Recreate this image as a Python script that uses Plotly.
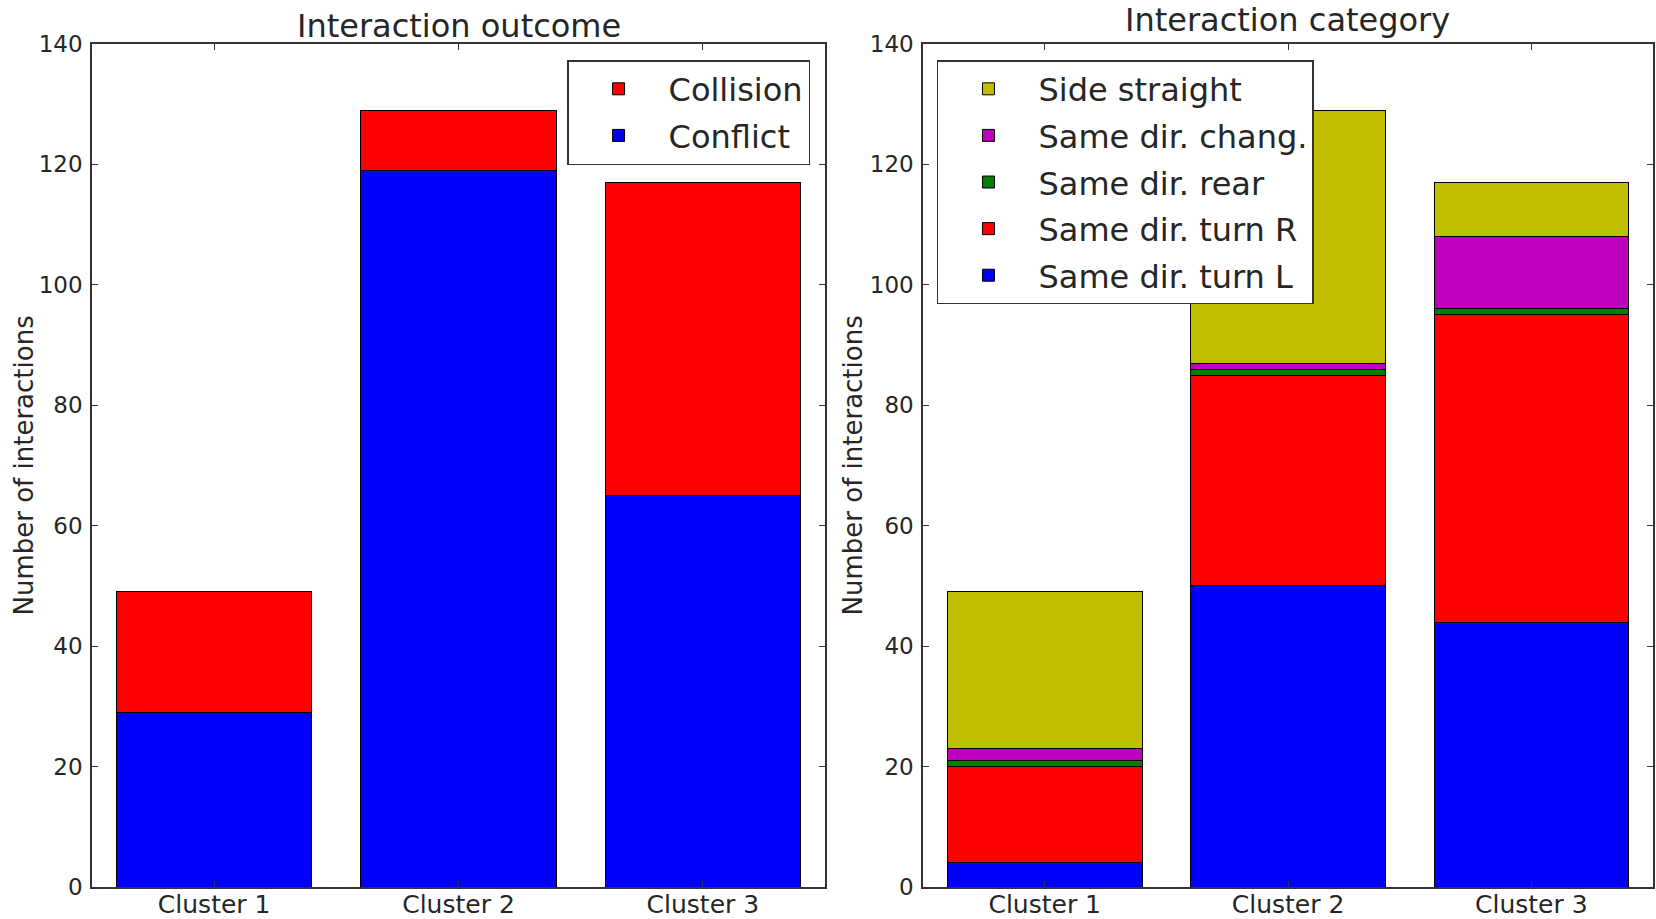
import plotly.graph_objects as go

clusters = ["Cluster 1", "Cluster 2", "Cluster 3"]

# Left panel: interaction outcome
conflict = [29, 119, 65]
collision = [20, 10, 52]

# Right panel: interaction category
turn_l = [4, 50, 44]
turn_r = [16, 35, 51]
rear = [1, 1, 1]
chang = [2, 1, 12]
side_straight = [26, 42, 9]

y_ticks = [0, 20, 40, 60, 80, 100, 120, 140]

FONT = "DejaVu Sans"
TXT = "#262626"

fig = go.Figure()

def add_bar(x, y, name, color, xaxis, yaxis, legend, rank):
    fig.add_trace(go.Bar(
        x=x, y=y, name=name, xaxis=xaxis, yaxis=yaxis, legend=legend,
        legendgroup=legend + name, legendrank=rank,
        marker=dict(color=color, line=dict(color="black", width=1)),
        width=0.8,
    ))

add_bar(clusters, conflict, "Conflict", "#0000FF", "x", "y", "legend", 2)
add_bar(clusters, collision, "Collision", "#FF0000", "x", "y", "legend", 1)

add_bar(clusters, turn_l, "Same dir. turn L", "#0000FF", "x2", "y2", "legend2", 5)
add_bar(clusters, turn_r, "Same dir. turn R", "#FF0000", "x2", "y2", "legend2", 4)
add_bar(clusters, rear, "Same dir. rear", "#008000", "x2", "y2", "legend2", 3)
add_bar(clusters, chang, "Same dir. chang.", "#BF00BF", "x2", "y2", "legend2", 2)
add_bar(clusters, side_straight, "Side straight", "#BFBF00", "x2", "y2", "legend2", 1)

xaxis_common = dict(
    type="category", range=[-0.5, 2.5], showline=True, linecolor="#333333", linewidth=1.5,
    mirror="allticks", ticks="inside", ticklen=6, tickcolor="#333333",
    showgrid=False, zeroline=False, automargin=False, ticklabelstandoff=-6,
    tickfont=dict(family=FONT, size=25, color=TXT),
)
yaxis_common = dict(
    range=[0, 140], tickvals=y_ticks, showline=True, linecolor="#333333", linewidth=1.5,
    mirror="allticks", ticks="inside", ticklen=6, tickcolor="#333333",
    showgrid=False, zeroline=False, ticklabelstandoff=3, automargin=False,
    tickfont=dict(family=FONT, size=23, color=TXT),
)

legend_common = dict(
    font=dict(family=FONT, size=32, color=TXT),
    bgcolor="white", bordercolor="#333333", borderwidth=1.5,
    traceorder="grouped", tracegroupgap=2,
    itemwidth=90,
)

def text_ann(text, x, y, size, angle=0):
    return dict(text=text, x=x, y=y, xref="paper", yref="paper",
                xanchor="center", yanchor="middle", showarrow=False, textangle=angle,
                font=dict(family=FONT, size=size, color=TXT))

fig.update_layout(
    width=1656, height=919,
    margin=dict(l=92, r=3, t=44, b=32),
    paper_bgcolor="white", plot_bgcolor="white",
    barmode="stack", bargap=0.2,
    showlegend=True,
    xaxis=dict(domain=[0, 0.4696], anchor="y", **xaxis_common),
    yaxis=dict(domain=[0, 1], anchor="x", **yaxis_common),
    xaxis2=dict(domain=[0.5324, 1], anchor="y2", **xaxis_common),
    yaxis2=dict(domain=[0, 1], anchor="x2", **yaxis_common),
    legend=dict(x=0.46, y=0.981, xanchor="right", yanchor="top", **legend_common),
    legend2=dict(x=0.5413, y=0.981, xanchor="left", yanchor="top", **legend_common),
    annotations=[
        text_ann("Interaction outcome", 0.2348, 1.021, 32),
        text_ann("Interaction category", 0.766, 1.028, 32),
        text_ann("Number of interactions", -0.0442, 0.5, 26, -90),
        text_ann("Number of interactions", 0.4875, 0.5, 26, -90),
    ],
)

fig.write_html("out.html")
